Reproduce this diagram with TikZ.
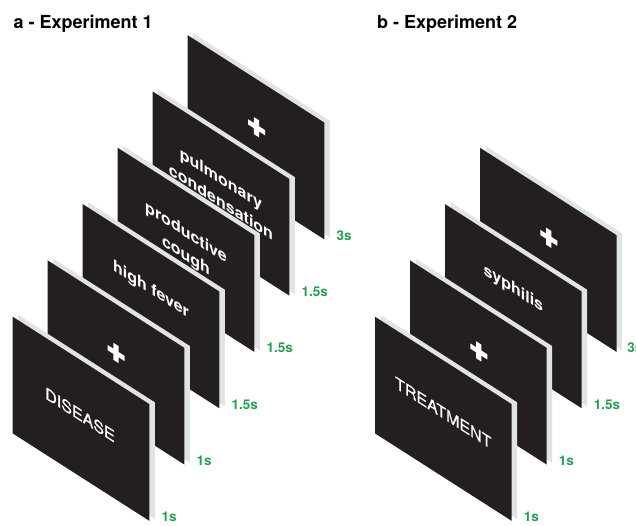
\documentclass[tikz,border=0pt]{standalone}
\usepackage{fontspec}
\setmainfont{TeX Gyre Heros}
\usetikzlibrary{calc}
\definecolor{cardfg}{RGB}{35,31,32}
\definecolor{cardbg}{RGB}{226,227,229}
\definecolor{timegreen}{RGB}{34,160,80}
\tikzset{
  cardfront/.style={fill=cardfg},
  cardback/.style={fill=cardbg},
  cardtxt/.style={text=white, font=\fontsize{16}{23}\selectfont\bfseries, align=center, inner sep=0pt, yslant=-0.64},
  capstxt/.style={text=white, font=\fontsize{16}{19}\selectfont\addfontfeature{FakeBold=0.7}, inner sep=0pt, yslant=-0.64},
  timelbl/.style={text=timegreen, font=\fontsize{13.5}{16}\selectfont\bfseries, anchor=base west, inner sep=0pt},
  titlelbl/.style={font=\fontsize{18}{21}\selectfont\bfseries, anchor=base west, inner sep=0pt},
  crossmark/.style={fill=white}
}
\newcommand\onecard[3]{%
  \fill[cardback] (#1+5.5,#2-1.8) -- ++(136.6,87.4) -- ++(0,116.7) -- ++(-136.6,-87.4) -- cycle;
  \fill[cardfront] (#1,#2) -- ++(136.6,87.4) -- ++(0,116.7) -- ++(-136.6,-87.4) -- cycle;
  \coordinate (#3) at (#1+68.3,#2+102.05);
  \coordinate (#3-br) at (#1+136.6,#2+204.1);
}
\newcommand\crossat[1]{%
  \fill[crossmark, shift={(#1)}, yslant=-0.64] (-8.5,-2.6) -- (-2.6,-2.6) -- (-2.6,-8.5) -- (2.6,-8.5) -- (2.6,-2.6) -- (8.5,-2.6) -- (8.5,2.6) -- (2.6,2.6) -- (2.6,8.5) -- (-2.6,8.5) -- (-2.6,2.6) -- (-8.5,2.6) -- cycle;}
\begin{document}
\begin{tikzpicture}[x=1pt,y=-1pt]
\useasboundingbox (0,0) rectangle (636,525);
% titles
\node[titlelbl] (ta) at (13.5,28.5) {a - Experiment 1};
\node[titlelbl] (tb) at (376.8,28.5) {b - Experiment 2};
% ---------- panel a ----------
\onecard{187.7}{35.2}{a6}
\coordinate (pa6) at ($(a6)+(0.5,-10)$);
\crossat{pa6}
\onecard{152.7}{91.5}{a5}
\node[cardtxt] (ta5) at ($(a5)+(0,-3.5)$) {pulmonary\\condensation};
\onecard{117.7}{147.8}{a4}
\node[cardtxt] (ta4) at ($(a4)+(0,-5)$) {productive\\cough};
\onecard{82.7}{204.1}{a3}
\node[cardtxt] (ta3) at ($(a3)+(0,-16)$) {high fever};
\onecard{47.7}{260.4}{a2}
\coordinate (pa2) at ($(a2)+(0,-9.5)$);
\crossat{pa2}
\onecard{12.7}{316.7}{a1}
\node[capstxt] (ta1) at ($(a1)+(-1,-4)$) {DISEASE};
% labels a
\node[timelbl] (la1) at ($(a1-br)+(12,1)$) {1s};
\node[timelbl] (la2) at ($(a2-br)+(12,1)$) {1s};
\node[timelbl] (la3) at ($(a3-br)+(12,1)$) {1.5s};
\node[timelbl] (la4) at ($(a4-br)+(12,1)$) {1.5s};
\node[timelbl] (la5) at ($(a5-br)+(12,1)$) {1.5s};
\node[timelbl] (la6) at ($(a6-br)+(12,1)$) {3s};
% ---------- panel b ----------
\onecard{480}{147.8}{b4}
\coordinate (pb4) at ($(b4)+(0.5,-12)$);
\crossat{pb4}
\onecard{445}{204.1}{b3}
\node[cardtxt] (tb3) at ($(b3)+(0,-17)$) {syphilis};
\onecard{410}{260.4}{b2}
\coordinate (pb2) at ($(b2)+(0.5,-11)$);
\crossat{pb2}
\onecard{375}{316.7}{b1}
\node[capstxt] (tb1) at ($(b1)+(0,-6)$) {TREATMENT};
% labels b
\node[timelbl] (lb1) at ($(b1-br)+(12,1)$) {1s};
\node[timelbl] (lb2) at ($(b2-br)+(12,1)$) {1s};
\node[timelbl] (lb3) at ($(b3-br)+(12,1)$) {1.5s};
\node[timelbl] (lb4) at ($(b4-br)+(10.5,1)$) {3s};
\end{tikzpicture}
\end{document}
